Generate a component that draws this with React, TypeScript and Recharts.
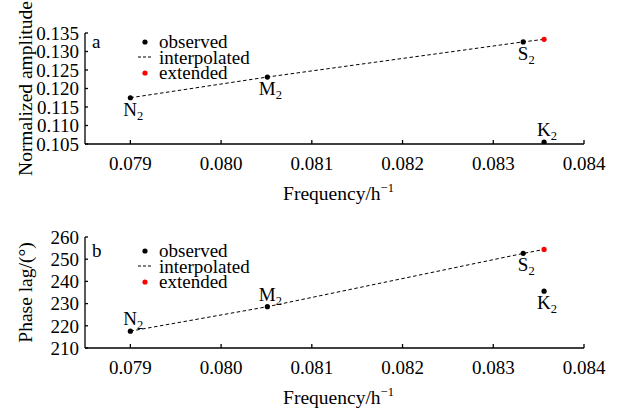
import { Scatter, ScatterChart, XAxis, YAxis, ZAxis } from 'recharts'

const constituents = ['N2', 'M2', 'S2', 'K2']
const frequency = [0.079, 0.08051, 0.08333, 0.08356]
const amplitude = [0.1175, 0.1231, 0.1326, 0.1055]
const phaseLag = [217.6, 228.6, 252.6, 235.6]
// K2 extended along the N2-M2-S2 line
const extendedFreq = [0.08356]
const extendedAmp = [0.1333]
const extendedPhase = [254.4]
const freqTicks = [0.079, 0.08, 0.081, 0.082, 0.083, 0.084]
const ampTicks = [0.105, 0.11, 0.115, 0.12, 0.125, 0.13, 0.135]
const phaseTicks = [210, 220, 230, 240, 250, 260]
const interpolatedFrom = ['N2', 'M2', 'S2']

const FONT = 'Liberation Serif'
const W = 618
const H = 206
const M = { top: 33, right: 34, left: 0, bottom: 0 }

type Side = 'above' | 'below'
type Pt = { name: string; f: number; v: number }

const legendRows = [
  { key: 'observed', icon: 'dot', color: '#000' },
  { key: 'interpolated', icon: 'dash', color: '#000' },
  { key: 'extended', icon: 'dot', color: '#ff0000' },
]

function LegendBox({ left, top }: { left: number; top: number }) {
  return (
    <div style={{ position: 'absolute', left, top, fontFamily: FONT, fontSize: 19, color: '#000' }}>
      {legendRows.map((r) => (
        <div key={r.key} style={{ display: 'flex', alignItems: 'center', height: 15.5 }}>
          <svg width={23} height={10} style={{ display: 'block' }}>
            {r.icon === 'dot'
              ? <circle cx={9} cy={5} r={2.6} fill={r.color} />
              : <line x1={2} x2={16} y1={5} y2={5} stroke="#000" strokeWidth={1} strokeDasharray="3 2" />}
          </svg>
          <span style={{ lineHeight: '15.5px' }}>{r.key}</span>
        </div>
      ))}
    </div>
  )
}

function sub(name: string) {
  return [name.slice(0, 1), name.slice(1)]
}

function makeDot(color: string, sides?: Record<string, Side>) {
  return (p: any) => {
    const { cx, cy, payload } = p
    const side = sides?.[payload?.name]
    const [main, s] = sub(payload?.name ?? '')
    return (
      <g>
        <circle cx={cx} cy={cy} r={2.6} fill={color} />
        {side && (
          <text x={cx + 3} y={side === 'below' ? cy + 18 : cy - 6} textAnchor="middle"
            fontFamily={FONT} fontSize={19} fill="#000">
            {main}<tspan fontSize={12.5} dy={4}>{s}</tspan>
          </text>
        )}
      </g>
    )
  }
}

function YTitle({ text, viewBox }: { text: string; viewBox?: any }) {
  const cy = viewBox ? viewBox.y + viewBox.height / 2 : 88
  return (
    <text x={25} y={cy} transform={`rotate(-90 25 ${cy})`} textAnchor="middle" dominantBaseline="central"
      fontFamily={FONT} fontSize={19.5} fill="#000">{text}</text>
  )
}

function XTitle({ viewBox }: { viewBox?: any }) {
  const cx = viewBox ? viewBox.x + viewBox.width / 2 + 4 : 338
  const y = viewBox ? viewBox.y + 56 : 200
  return (
    <text x={cx} y={y} textAnchor="middle" fontFamily={FONT} fontSize={19.5} fill="#000">
      Frequency/h<tspan fontSize={12.5} dy={-8}>−1</tspan>
    </text>
  )
}

function Panel({ letter, title, values, ext, ticks, fmt, sides, top, letterY }: {
  letter: string; title: string; values: number[]; ext: number[]; ticks: number[]
  fmt: (v: number) => string; sides: Record<string, Side>; top: number; letterY: number
}) {
  const observed: Pt[] = constituents.map((name, i) => ({ name, f: frequency[i], v: values[i] }))
  const extended: Pt[] = extendedFreq.map((f, i) => ({ name: 'ext', f, v: ext[i] }))
  const line = [...observed.filter((d) => interpolatedFrom.includes(d.name)), ...extended]
  const tickStyle = { fontFamily: FONT, fontSize: 19, fill: '#000' }
  const axisLine = { stroke: '#000', strokeWidth: 1.3 }
  return (
    <div style={{ position: 'absolute', left: 0, top, width: W, height: H, fontFamily: FONT, fontSize: 19 }}>
      <ScatterChart width={W} height={H} margin={M}>
        <XAxis type="number" dataKey="f" domain={[0.0785, 0.084]} ticks={freqTicks} allowDataOverflow
          tickFormatter={(v: number) => v.toFixed(3)} tick={tickStyle} axisLine={axisLine}
          tickLine={{ stroke: '#000', strokeWidth: 1.3 }} tickSize={-4} tickMargin={17} height={62}
          label={<XTitle />} />
        <YAxis type="number" dataKey="v" domain={[ticks[0], ticks[ticks.length - 1]]} ticks={ticks} allowDataOverflow
          tickFormatter={fmt} tick={tickStyle} axisLine={axisLine} interval={0}
          tickLine={{ stroke: '#000', strokeWidth: 1.3 }} tickSize={-3} tickMargin={9} width={85}
          label={<YTitle text={title} />} />
        <ZAxis range={[20, 20]} />
        <Scatter data={line} shape={() => <g />} line={{ stroke: '#000', strokeWidth: 1, strokeDasharray: '3.5 2.5' }}
          isAnimationActive={false} legendType="none" />
        <Scatter data={observed} shape={makeDot('#000', sides)} isAnimationActive={false} />
        <Scatter data={extended} shape={makeDot('#ff0000')} isAnimationActive={false} />
      </ScatterChart>
      <LegendBox left={136} top={letterY - 12} />
      <div style={{ position: 'absolute', left: 92, top: letterY - 14, fontFamily: FONT, fontSize: 19, lineHeight: '19px' }}>
        {letter}
      </div>
    </div>
  )
}

export default function App() {
  return (
    <div style={{ position: 'absolute', left: 0, top: 0, width: W, height: 412, background: '#fff' }}>
      <Panel letter="a" title="Normalized amplitude" values={amplitude} ext={extendedAmp} ticks={ampTicks}
        fmt={(v) => v.toFixed(3)} sides={{ N2: 'below', M2: 'below', S2: 'below', K2: 'above' }}
        top={0} letterY={46} />
      <Panel letter="b" title="Phase lag/(°)" values={phaseLag} ext={extendedPhase} ticks={phaseTicks}
        fmt={(v) => String(v)} sides={{ N2: 'above', M2: 'above', S2: 'below', K2: 'below' }}
        top={204} letterY={51} />
    </div>
  )
}
